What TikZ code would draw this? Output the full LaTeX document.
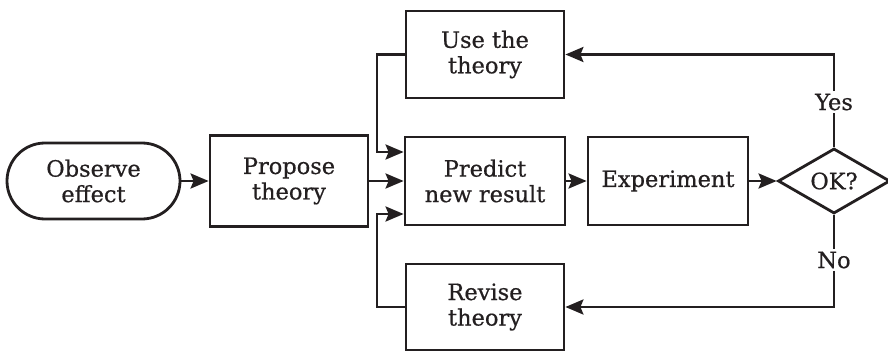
\documentclass[tikz,border=0pt]{standalone}
\usepackage{fontspec}
\setmainfont{DejaVu Serif}[FakeBold=0.6]
\usetikzlibrary{arrows.meta,shapes.geometric}
\definecolor{ink}{RGB}{35,31,32}
\begin{document}
\begin{tikzpicture}[x=1pt,y=1pt,
  line width=2.8pt, line join=miter, color=ink,
  lbl/.style={font=\fontsize{22.5}{25.5}\selectfont, align=center, text=ink},
  box/.style={lbl, draw, inner sep=0pt, minimum width=158pt, minimum height=88pt},
  startbox/.style={lbl, draw, rectangle, rounded corners=38pt, inner sep=0pt,
    minimum width=173pt, minimum height=76pt},
  decision/.style={lbl, draw, diamond, aspect=1.72, inner sep=0pt,
    minimum width=112pt, minimum height=65pt},
  tag/.style={lbl, fill=white, inner sep=1pt},
  arr/.style={-{Stealth[length=18pt,width=15pt,inset=3pt]}}
]
\useasboundingbox (0,0) rectangle (888,351);

% main row
\node[startbox] (observe) at (93.5,170) {Observe\\effect};
\node[box, minimum height=91pt] (propose) at (289,170) {Propose\\theory};
\node[box, minimum width=160pt] (predict) at (485,170) {Predict\\new result};
\node[box, minimum width=160pt] (experiment) at (668,170) {Experiment};
\node[decision] (ok) at (834,170) {OK?};

% feedback boxes
\node[box, minimum height=87pt] (use) at (485,296.5) {Use the\\theory};
\node[box, minimum height=86pt] (revise) at (485,44) {Revise\\theory};

% branch labels
\node[tag] (yes) at (834,249) {Yes};
\node[tag] (no) at (834,91) {No};

% junction points left of the prediction box
\coordinate (jt) at (377,199);
\coordinate (jb) at (377,137);

\draw[arr] (observe) -- (propose);
\draw[arr] (propose) -- (predict);
\draw[arr] (predict) -- (experiment);
\draw[arr] (experiment) -- (ok);

\draw[arr] (use.west) -| (jt) -- (predict.west |- jt);
\draw[arr] (revise.west) -| (jb) -- (predict.west |- jb);

\draw (ok.north) -- (yes);
\draw[arr] (yes) |- (use.east);
\draw (ok.south) -- (no);
\draw[arr] (no) |- (revise.east);
\end{tikzpicture}
\end{document}
